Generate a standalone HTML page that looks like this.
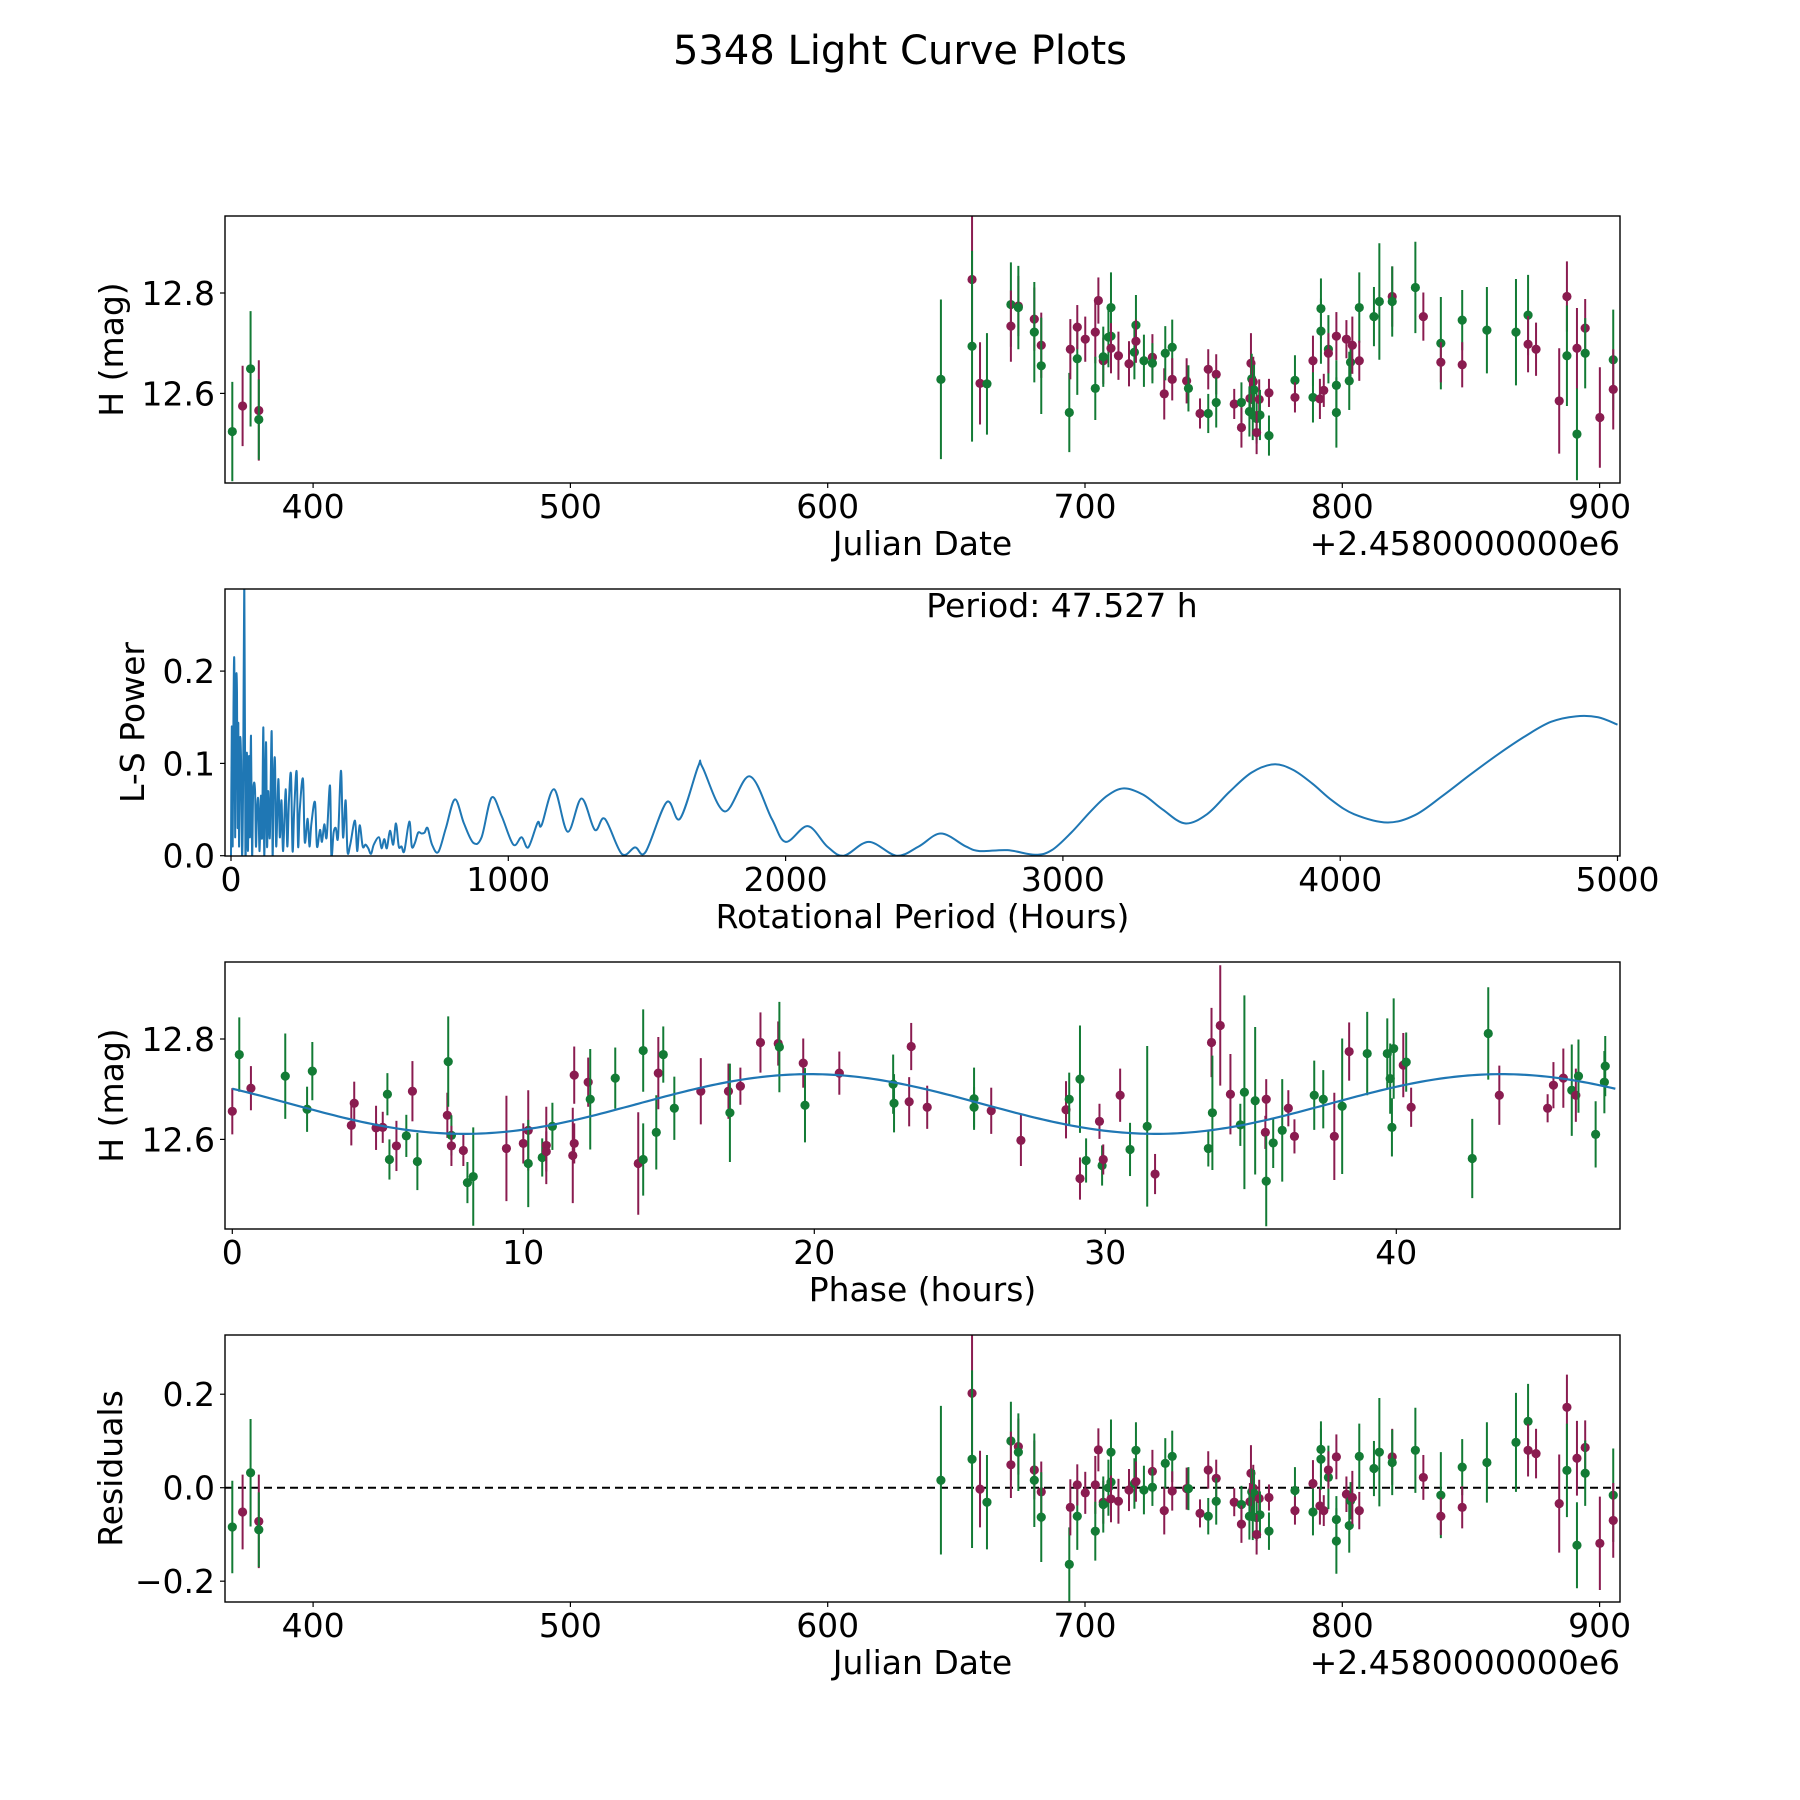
<!DOCTYPE html>
<html><head><meta charset="utf-8"><title>5348 Light Curve Plots</title>
<style>
html,body{margin:0;padding:0;background:#fff;}
svg{display:block;font-family:"DejaVu Sans","Liberation Sans",sans-serif;}
text{fill:#000;}
</style></head>
<body>
<svg id="fig" width="1800" height="1800" viewBox="0 0 1800 1800" xmlns="http://www.w3.org/2000/svg">
<rect x="0" y="0" width="1800" height="1800" fill="#fff"/>
<text x="900" y="64" font-size="40" text-anchor="middle">5348 Light Curve Plots</text>
<defs>
<clipPath id="c1"><rect x="225" y="216" width="1395" height="267"/></clipPath>
<clipPath id="c2"><rect x="225" y="589" width="1395" height="267"/></clipPath>
<clipPath id="c3"><rect x="225" y="962" width="1395" height="267"/></clipPath>
<clipPath id="c4"><rect x="225" y="1335" width="1395" height="267"/></clipPath>
</defs>
<g id="p1"></g>
<g id="p2"></g>
<g id="p3"></g>
<g id="p4"></g>
</svg>
<script>
// ---------- Light curve data (Julian date offset from 2458000) ----------
const dates = [368.6,372.6,375.7,378.9,378.9,
644.0,656.1,656.1,659.2,661.9,671.2,671.2,674.1,674.1,680.3,
680.3,683.0,683.0,693.9,694.3,697.0,697.0,700.1,704.0,704.0,
705.2,707.1,707.1,709.1,710.1,710.1,710.1,713.0,717.1,719.2,
719.8,719.8,722.9,726.2,726.2,730.8,731.2,733.9,733.9,739.5,
740.2,744.7,747.9,747.9,751.0,751.0,758.0,760.8,760.8,764.5,
764.8,765.4,765.7,764.1,763.9,765.2,766.7,767.7,768.0,766.7,
771.5,771.5,
781.6,781.6,788.6,788.6,791.3,791.7,791.7,792.8,794.6,794.6,
797.7,797.7,797.7,801.6,802.7,803.2,803.9,806.6,806.6,812.3,
814.4,819.4,819.4,828.4,831.5,838.3,838.3,846.6,846.6,856.2,
867.5,872.2,872.2,875.3,884.3,887.3,887.3,891.2,891.2,894.4,
894.4,900.1,905.3,905.3];
const mags = [12.524,12.575,12.649,12.566,12.548,
12.628,12.827,12.694,12.620,12.619,12.777,12.734,12.774,12.771,12.748,
12.722,12.696,12.655,12.562,12.688,12.669,12.732,12.708,12.722,12.610,
12.785,12.665,12.673,12.712,12.771,12.714,12.690,12.675,12.659,12.682,
12.736,12.704,12.665,12.672,12.660,12.599,12.680,12.692,12.628,12.625,
12.610,12.560,12.648,12.560,12.638,12.582,12.579,12.582,12.532,12.660,
12.629,12.623,12.607,12.590,12.564,12.557,12.550,12.588,12.557,12.522,
12.601,12.516,
12.626,12.592,12.665,12.592,12.589,12.769,12.724,12.606,12.688,12.680,
12.714,12.616,12.562,12.708,12.625,12.662,12.696,12.771,12.665,12.753,
12.783,12.793,12.783,12.811,12.753,12.700,12.662,12.746,12.657,12.726,
12.722,12.756,12.698,12.688,12.585,12.793,12.675,12.519,12.690,12.730,
12.680,12.552,12.667,12.608];
const magErrs = [.099,.08,.115,.1,.08,
.159,.126,.19,.082,.101,.084,.071,.06,.083,.063,
.1,.065,.096,.079,.06,.072,.044,.045,.062,.063,
.046,.046,.06,.06,.07,.06,.05,.048,.045,.054,
.06,.043,.052,.046,.04,.051,.054,.055,.042,.045,
.046,.03,.04,.039,.04,.05,.03,.04,.04,.06,
.05,.05,.05,.04,.05,.05,.05,.04,.05,.043,
.028,.04,
.05,.03,.05,.05,.04,.06,.065,.033,.068,.04,
.048,.05,.07,.038,.058,.04,.057,.07,.04,.059,
.116,.06,.07,.091,.048,.092,.04,.06,.045,.086,
.106,.08,.056,.053,.105,.07,.1,.092,.08,.058,
.07,.1,.1,.08];
const bands = ("gmgmg"+"gmgmggmmgm"+"gmggmgmmmg"+"mmggggmmmg"+"gmgmgmggmm"+"gmmgmgmgmm"+"gmgmgggmgm"+"mg"
 +"gmmgmggmgm"+"mggmggmgmg"+"gmggmgmgmg"+"ggmmmmggmm"+"gmgm").split("");
const residuals = [-.084,-.052,.032,-.072,-.09,
.016,.202,.061,-.003,-.031,.1,.049,.088,.076,.038,
.016,-.009,-.063,-.164,-.042,-.061,.006,-.011,.006,-.093,
.081,-.031,-.036,0,.076,.012,-.024,-.029,-.005,.009,
.08,.013,-.005,.035,.001,-.049,.052,.067,-.007,-.002,
-.002,-.055,.038,-.061,.02,-.029,-.031,-.036,-.078,.031,
-.009,-.001,-.012,-.03,-.061,-.062,-.064,-.023,-.058,-.1,
-.021,-.093,
-.006,-.049,.009,-.052,-.039,.082,.061,-.049,.022,.038,
.066,-.068,-.114,-.014,-.081,-.028,-.021,.067,-.049,.041,
.076,.066,.054,.08,.022,-.016,-.061,.044,-.042,.054,
.097,.142,.08,.073,-.034,.172,.037,-.123,.063,.086,
.031,-.119,-.016,-.07];

// ---------- Phase-folded data ----------
const phases = [0,0.24,0.64,1.82,2.57,2.75,4.09,4.19,4.94,5.17,
5.33,5.40,5.64,5.98,6.19,6.36,7.39,7.42,7.53,7.53,
7.94,8.08,8.28,9.42,10.0,10.17,10.17,10.65,10.79,10.79,
11.0,11.7,11.75,11.75,12.23,12.3,13.16,13.95,14.12,14.12,
14.57,14.64,14.81,15.19,
16.1,17.05,17.1,17.46,18.15,18.76,18.8,19.62,19.68,20.86,
22.71,22.74,23.26,23.33,23.88,25.49,25.49,26.08,27.1,28.65,
28.76,29.13,29.13,29.34,29.8,29.89,29.93,30.51,30.85,31.44,
31.71,
33.54,33.65,33.68,33.95,34.3,34.64,34.78,35.15,35.5,35.53,
35.53,35.77,36.08,36.29,36.5,37.18,37.49,37.87,38.14,38.38,
39.0,39.69,39.79,39.85,39.91,40.24,40.34,40.51,42.61,43.16,
43.54,45.2,45.4,45.74,46.03,46.17,46.26,46.85,47.15,47.18];
const phaseMags = [12.656,12.769,12.702,12.726,12.66,12.736,12.628,12.672,12.623,12.624,
12.69,12.56,12.587,12.607,12.696,12.556,12.648,12.755,12.608,12.587,
12.578,12.514,12.526,12.582,12.592,12.618,12.552,12.564,12.588,12.576,
12.626,12.568,12.728,12.592,12.714,12.68,12.722,12.552,12.777,12.56,
12.614,12.732,12.769,12.662,
12.696,12.696,12.653,12.706,12.793,12.791,12.784,12.752,12.668,12.732,
12.71,12.672,12.675,12.785,12.664,12.681,12.664,12.657,12.598,12.659,
12.68,12.72,12.522,12.558,12.636,12.548,12.56,12.688,12.58,12.626,
12.531,
12.582,12.793,12.653,12.827,12.69,12.629,12.694,12.677,12.614,12.68,
12.517,12.593,12.618,12.662,12.606,12.688,12.68,12.606,12.666,12.775,
12.771,12.771,12.721,12.624,12.781,12.748,12.754,12.664,12.562,12.811,
12.688,12.662,12.708,12.722,12.698,12.688,12.726,12.61,12.714,12.746];
const phaseErrs = [.046,.074,.044,.085,.045,.058,.04,.043,.044,.031,
.042,.04,.05,.042,.06,.057,.045,.09,.04,.04,
.031,.041,.098,.105,.04,.08,.087,.038,.077,.04,
.047,.095,.057,.04,.049,.1,.061,.102,.082,.072,
.074,.072,.056,.063,
.066,.055,.098,.037,.06,.044,.09,.049,.074,.043,
.059,.058,.049,.047,.043,.062,.04,.046,.051,.057,
.053,.107,.042,.044,.035,.04,.03,.053,.053,.16,
.04,
.036,.069,.114,.12,.08,.042,.193,.147,.033,.04,
.09,.05,.102,.036,.034,.069,.058,.087,.135,.058,
.083,.07,.07,.058,.1,.064,.059,.039,.079,.092,
.059,.028,.046,.059,.091,.053,.073,.066,.062,.06];
const phaseBands = ("mgmgggmmmm"+"ggmgmgmggm"+"mggmmmggmm"+"gmmmmggmgg"+"gmgg"
 +"mmgmmmgmgm"+"ggmmmggmmm"+"ggmgmgmmgg"+"m"
 +"gmgmmgggmm"+"gggmmggmgm"+"gggggmgmgg"+"mmmmgmgggg").split("");
const bestPeriod = 47.527;
const fitParams = [12.6705, 0.0595, 19.85]; // mean mag, amplitude, phase of maximum (hours)

// ---------- Periodogram ----------
const lsPeriods = [0,3,6,9,12,15,18,21.6,24,26.4,29,32,36,40,44,48,52,55,57.7,61,64.9,68,72.1,76,80,86.5,90,94,98.5,103,108,112,116.6,120,126.2,130,134,140,146.6,150,154,158.6,163,170.7,176,182,188,197,203,209,216.3,222,228,236.8,242,248,259.6,266,276.4,283,290,302.9,310,320.9,328,336.5,345,356.9,362,370,378,386,396.6,404,413.4,420,430,447.1,455,463.9,475,485,495.1,505,515,533.6,543,552.8,562,573.3,585,594.9,605,615,625,643,652,663.4,675,687.4,698,709,725,747.5,775,807.6,840,873.7,903.7,939.8,975.9,1018,1048,1072,1106,1120,1165,1214,1264,1312,1348,1409,1457,1495,1571,1619,1685,1700,1780,1870,1950,2000,2080,2150,2210,2300,2400,2480,2560,2650,2700,2800,2900,2960,3030,3100,3160,3220,3290,3360,3440,3520,3600,3680,3760,3830,3900,3970,4050,4170,4270,4370,4470,4570,4670,4760,4850,4930,5000];
const lsPowers = [0,.14,.01,.16,.208,.02,.18,.177,.03,.144,.01,.12,.108,0,.09,.30,0,.08,.108,.005,.108,.02,.13,0,.07,.072,.01,.05,.06,.005,.065,.02,.139,0,.123,.01,.07,.02,.135,0,.08,.103,.01,.083,.02,.06,.005,.072,.01,.06,.088,.005,.05,.091,.01,.05,.083,.015,.04,.01,.035,.058,.01,.028,.015,.034,.02,.076,0,.025,.03,.02,.092,.02,.06,.005,.012,.038,.005,.033,.01,.012,.008,.002,.012,.02,.008,.018,.008,.027,.012,.035,.01,.01,.005,.037,.01,.014,.025,.024,.025,.03,.012,.004,.03,.061,.035,.014,.02,.063,.043,.012,.02,.009,.036,.033,.072,.026,.062,.028,.04,.002,.009,.004,.058,.04,.097,.096,.048,.086,.04,.015,.032,.01,0,.015,0,.01,.024,.01,.005,.006,.001,.006,.025,.048,.065,.073,.066,.05,.035,.045,.069,.09,.099,.093,.078,.06,.045,.036,.044,.065,.088,.11,.13,.145,.151,.15,.142];

// ---------- Ticks ----------
const dateTicks = [400,500,600,700,800,900];
const magTicks = [12.6,12.8];
const lsXTicks = [0,1000,2000,3000,4000,5000];
const lsYTicks = [0.0,0.1,0.2];
const phaseTicks = [0,10,20,30,40];
const residTicks = [-0.2,0.0,0.2];

// ---------- Axis functions ----------
const AX = {left:225, right:1620, h:267, tops:[216,589,962,1335]};
const xDate = d => 1085 + (d-700)*2.573;
const yMag1 = m => 293 + (12.8-m)*502;
const yMag3 = m => 1039 + (12.8-m)*502;
const xLS = p => 231 + p*0.2773;
const yLS = v => 855.7 - v*923;
const xPh = p => 232.3 + p*29.1;
const yRes = r => 1487.7 - r*467.4;
const COL = {g:"#137b35", m:"#8a1c50"};
const NS = "http://www.w3.org/2000/svg";
const FS = 33;

function mk(parent, tag, attrs){
  const e = document.createElementNS(NS, tag);
  for (const k in attrs) e.setAttribute(k, attrs[k]);
  parent.appendChild(e);
  return e;
}
function fmt(v){ return (v<0?"\u2212":"") + Math.abs(v).toFixed(1); }

function frame(g, i, xticks, xfn, xlabels, yticks, yfn, ylabels, xlabel, ylabel, ylabelX){
  const top = AX.tops[i], bot = top + AX.h;
  xticks.forEach((t,k)=>{
    const x = xfn(t);
    const tk = mk(g,"line",{x1:x,x2:x,y1:bot,y2:bot+5,stroke:"#000","stroke-width":1.2});
    
    
    const tl = mk(g,"text",{x:x,y:bot+35,"font-size":FS,"text-anchor":"middle"});
    tl.textContent = xlabels[k];
    
    
  });
  yticks.forEach((t,k)=>{
    const y = yfn(t);
    const tk = mk(g,"line",{x1:AX.left-5,x2:AX.left,y1:y,y2:y,stroke:"#000","stroke-width":1.2});
    
    
    const tl = mk(g,"text",{x:AX.left-10,y:y+12,"font-size":FS,"text-anchor":"end"});
    tl.textContent = ylabels[k];
    
    
  });
  const xl = mk(g,"text",{x:(AX.left+AX.right)/2,y:bot+72,"font-size":FS,"text-anchor":"middle"});
  xl.textContent = xlabel;
  
  
  const cy = top + AX.h/2;
  const yl = mk(g,"text",{x:ylabelX,y:cy,"font-size":FS,"text-anchor":"middle",transform:`rotate(-90 ${ylabelX} ${cy})`});
  yl.textContent = ylabel;
  
  
}
function border(g, i){
  const b = mk(g,"rect",{x:AX.left,y:AX.tops[i],width:AX.right-AX.left,height:AX.h,fill:"none",stroke:"#000","stroke-width":1.4});
  
  
}
function errPoints(g, clip, xs, ys, es, cs, xfn, yfn, escale){
  const layer = mk(g,"g",{"clip-path":`url(#${clip})`});
  
  
  for (let i=0;i<xs.length;i++){
    const x = xfn(xs[i]), y = yfn(ys[i]), c = COL[cs[i]];
    const e = es[i]*escale;
    const ln = mk(layer,"line",{x1:x,x2:x,y1:y-e,y2:y+e,stroke:c,"stroke-width":2});
    
    
    const dot = mk(layer,"circle",{cx:x,cy:y,r:4.6,fill:c});
    
    
  }
}
const offsetText = "+2.4580000000e6";
function offset(g, i){
  const t = mk(g,"text",{x:AX.right,y:AX.tops[i]+AX.h+72,"font-size":FS,"text-anchor":"end"});
  t.textContent = offsetText;
  
  
}

// Panel 1: light curve
const p1 = document.getElementById("p1");
errPoints(p1,"c1",dates,mags,magErrs,bands,xDate,yMag1,502);
frame(p1,0,dateTicks,xDate,dateTicks.map(String),magTicks,yMag1,magTicks.map(v=>v.toFixed(1)),"Julian Date","H (mag)",123);
offset(p1,0);
border(p1,0);

// Panel 2: periodogram
const p2 = document.getElementById("p2");
(function(){
  const pts = lsPeriods.map((p,i)=>[xLS(p), yLS(lsPowers[i])]);
  let d = `M${pts[0][0]},${pts[0][1]}`;
  for (let i=0;i<pts.length-1;i++){
    const p0 = pts[Math.max(0,i-1)], p1_ = pts[i], p2_ = pts[i+1], p3 = pts[Math.min(pts.length-1,i+2)];
    const c1x = p1_[0] + (p2_[0]-p0[0])/6, c1y = p1_[1] + (p2_[1]-p0[1])/6;
    const c2x = p2_[0] - (p3[0]-p1_[0])/6, c2y = p2_[1] - (p3[1]-p1_[1])/6;
    d += ` C${c1x},${c1y} ${c2x},${c2y} ${p2_[0]},${p2_[1]}`;
  }
  const path = mk(p2,"path",{d:d,fill:"none",stroke:"#1f77b4","stroke-width":2,"clip-path":"url(#c2)","stroke-linejoin":"round"});
  
  
})();
frame(p2,1,lsXTicks,xLS,lsXTicks.map(String),lsYTicks,yLS,lsYTicks.map(v=>v.toFixed(1)),"Rotational Period (Hours)","L-S Power",144);
const per = mk(p2,"text",{x:1062,y:617,"font-size":FS,"text-anchor":"middle"});
per.textContent = "Period: " + bestPeriod.toFixed(3) + " h";


border(p2,1);

// Panel 3: phase folded
const p3 = document.getElementById("p3");
errPoints(p3,"c3",phases,phaseMags,phaseErrs,phaseBands,xPh,yMag3,502);
(function(){
  let d = "";
  for (let k=0;k<=300;k++){
    const ph = bestPeriod*k/300;
    const m = fitParams[0] + fitParams[1]*Math.cos(2*Math.PI*(ph-fitParams[2])/(bestPeriod/2));
    d += (k?" L":"M") + xPh(ph).toFixed(2) + "," + yMag3(m).toFixed(2);
  }
  const path = mk(p3,"path",{d:d,fill:"none",stroke:"#1f77b4","stroke-width":2.2,"clip-path":"url(#c3)"});
  
  
})();
frame(p3,2,phaseTicks,xPh,phaseTicks.map(String),magTicks,yMag3,magTicks.map(v=>v.toFixed(1)),"Phase (hours)","H (mag)",123);
border(p3,2);

// Panel 4: residuals
const p4 = document.getElementById("p4");
const zl = mk(p4,"line",{x1:AX.left,x2:AX.right,y1:yRes(0),y2:yRes(0),stroke:"#000","stroke-width":2,"stroke-dasharray":"8,5"});


errPoints(p4,"c4",dates,residuals,magErrs,bands,xDate,yRes,467.4);
frame(p4,3,dateTicks,xDate,dateTicks.map(String),residTicks,yRes,residTicks.map(fmt),"Julian Date","Residuals",122);
offset(p4,3);
border(p4,3);
</script>
</body></html>
